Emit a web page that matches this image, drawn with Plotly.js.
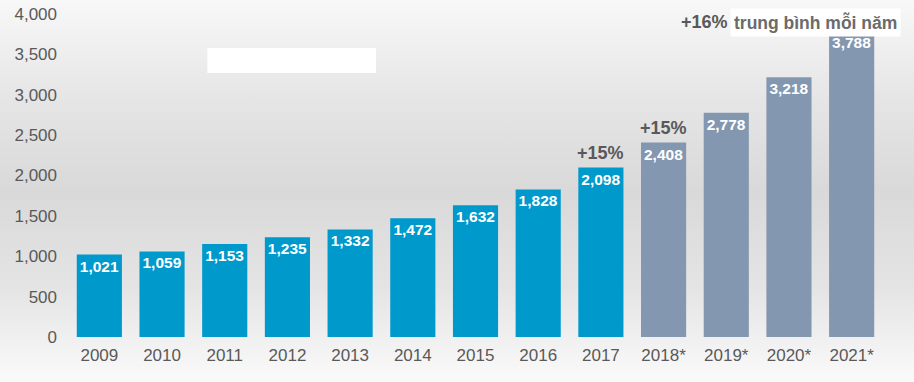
<!DOCTYPE html>
<html><head><meta charset="utf-8">
<script src="https://cdn.plot.ly/plotly-3.0.1.min.js"></script>
<style>
html,body{margin:0;padding:0;}
body{width:914px;height:382px;background:linear-gradient(to bottom,#f8f8f8 0%,#e6e6e6 25%,#d9d9d9 50%,#e4e4e4 75%,#fafafa 100%);}
#chart{width:914px;height:382px;}
</style></head>
<body><div id="chart"></div>
<script>
const years = ['2009','2010','2011','2012','2013','2014','2015','2016','2017','2018*','2019*','2020*','2021*'];
const values = [1021,1059,1153,1235,1332,1472,1632,1828,2098,2408,2778,3218,3788];
const barColors = ['#0099cc','#0099cc','#0099cc','#0099cc','#0099cc','#0099cc','#0099cc','#0099cc','#0099cc','#8497b0','#8497b0','#8497b0','#8497b0'];
const yTicks = [0,500,1000,1500,2000,2500,3000,3500,4000];
const yTickText = ['0','500','1,000','1,500','2,000','2,500','3,000','3,500','4,000'];

const trace = {
  type:'bar', x: years, y: values,
  marker:{color: barColors},
  text: values.map(v => v.toLocaleString('en-US')),
  textposition:'inside', insidetextanchor:'end', constraintext:'none', textangle:0,
  textfont:{family:'Liberation Sans, Arial, sans-serif', size:15.5, color:'#ffffff', weight:'bold'},
  hoverinfo:'none'
};
const grey = '#595959';
const layout = {
  width:914, height:382,
  margin:{l:68, r:31, t:14, b:45},
  paper_bgcolor:'rgba(0,0,0,0)', plot_bgcolor:'rgba(0,0,0,0)',
  bargap:0.28, showlegend:false,
  xaxis:{type:'category', range:[-0.5,12.5], tickfont:{family:'Liberation Sans Narrow, Arial Narrow, Liberation Sans, sans-serif', size:17, color:grey},
         showline:false, ticks:'', ticklabelstandoff:6},
  yaxis:{range:[0,4000], tickvals:yTicks, ticktext:yTickText, showgrid:false, zeroline:false,
         tickfont:{family:'Liberation Sans, Arial, sans-serif', size:17, color:grey}, ticks:'', ticklabelstandoff:10},
  shapes:[
    {type:'rect', xref:'paper', yref:'paper', x0:0.171, x1:0.378, y0:0.817, y1:0.895, fillcolor:'#ffffff', line:{width:0}}
  ],
  annotations:[
    {x:8, y:values[8], yanchor:'bottom', yshift:3, text:'<b>+15%</b>', showarrow:false,
     font:{family:'Liberation Sans, Arial, sans-serif', size:18, color:grey}},
    {x:9, y:values[9], yanchor:'bottom', yshift:3, text:'<b>+15%</b>', showarrow:false,
     font:{family:'Liberation Sans, Arial, sans-serif', size:18, color:grey}},
    {xref:'paper', yref:'paper', x:0.812, y:0.975, xanchor:'right', yanchor:'middle', text:'<b>+16%</b>', showarrow:false,
     font:{family:'Liberation Sans, Arial, sans-serif', size:18, color:grey}},
    {xref:'paper', yref:'paper', x:0.812, y:0.975, xanchor:'left', yanchor:'middle', text:'<b>trung bình mỗi năm</b>', showarrow:false,
     bgcolor:'#ffffff', borderpad:3,
     font:{family:'Liberation Sans, Arial, sans-serif', size:17.5, color:'#6b6b6b'}}
  ]
};
Plotly.newPlot('chart',[trace],layout,{displayModeBar:false, staticPlot:true});
</script></body></html>
